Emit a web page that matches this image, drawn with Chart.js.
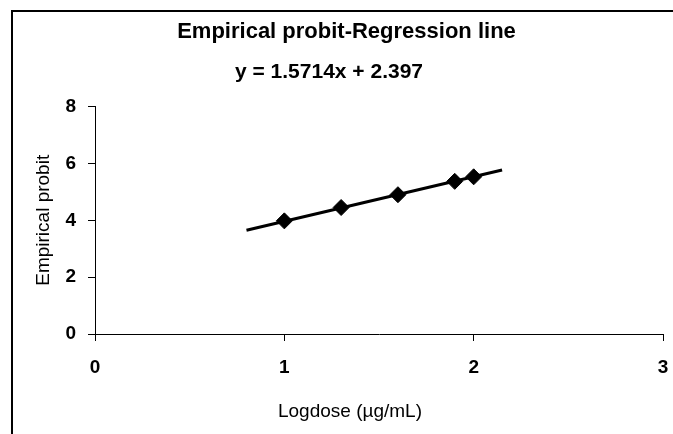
<!DOCTYPE html>
<html>
<head>
<meta charset="utf-8">
<script src="https://cdn.jsdelivr.net/npm/chart.js@4"></script>
<style>
  html, body { margin: 0; padding: 0; background: #fff; overflow: hidden; }
  #wrap { position: relative; width: 673px; height: 434px; }
  #frame { position: absolute; left: 11px; top: 10px; width: 700px; height: 500px; border: 2px solid #000; box-sizing: border-box; }
  canvas { position: absolute; left: 0; top: 0; }
</style>
</head>
<body>
<div id="wrap">
  <div id="frame"></div>
  <canvas id="chart" width="673" height="434"></canvas>
</div>
<script>
// observed points
const logdose = [1.0, 1.3, 1.6, 1.9, 2.0];
const probit = [3.98, 4.45, 4.90, 5.37, 5.53];
// regression line ends as drawn
const lineX = [0.8, 2.15];
const lineY = [3.65, 5.77];
const xTicks = [0, 1, 2, 3];
const yTicks = [0, 2, 4, 6, 8];

const FONT = "'Liberation Sans', Arial, sans-serif";
// trailing no-break spaces nudge centred labels left, like the original layout
const pad = n => "\u00a0".repeat(n);

new Chart(document.getElementById("chart"), {
  type: "scatter",
  data: {
    datasets: [
      {
        label: "fit",
        data: lineX.map((x, i) => ({x: x, y: lineY[i]})),
        showLine: true,
        borderColor: "#000",
        borderWidth: 3,
        pointRadius: 0,
        order: 2
      },
      {
        label: "points",
        data: logdose.map((x, i) => ({x: x, y: probit[i]})),
        pointStyle: "rectRot",
        pointRadius: 8,
        backgroundColor: "#000",
        borderColor: "#000",
        order: 1
      }
    ]
  },
  options: {
    responsive: false,
    animation: false,
    layout: {padding: {left: 20, right: 0, top: 0, bottom: 0}},
    plugins: {
      legend: {display: false},
      tooltip: {enabled: false},
      title: {
        display: true,
        text: "Empirical probit-Regression line",
        color: "#000",
        font: {family: FONT, size: 22, weight: "bold"},
        padding: {top: 19, bottom: 14}
      },
      subtitle: {
        display: true,
        text: "y = 1.5714x + 2.397" + pad(6),
        color: "#000",
        font: {family: FONT, size: 21, weight: "bold"},
        padding: {top: 0, bottom: 22}
      }
    },
    scales: {
      x: {
        type: "linear",
        min: 0, max: 3,
        afterBuildTicks: s => { s.ticks = xTicks.map(v => ({value: v})); },
        afterFit: s => { s.height = 100; s.paddingRight = 10; s.paddingLeft = 0; },
        grid: {display: true, drawOnChartArea: false, drawTicks: true, tickLength: 7, color: "#000", lineWidth: 1},
        border: {display: true, color: "#000", width: 1},
        ticks: {color: "#000", font: {family: FONT, size: 19, weight: "bold"}, padding: 15, maxRotation: 0},
        title: {display: true, text: "Logdose (µg/mL)" + pad(11), color: "#000", font: {family: FONT, size: 19}, padding: {top: 0, bottom: 11}}
      },
      y: {
        min: 0, max: 8,
        afterBuildTicks: s => { s.ticks = yTicks.map(v => ({value: v})); },
        afterFit: s => { s.width = 75; },
        grid: {display: true, drawOnChartArea: false, drawTicks: true, tickLength: 7, color: "#000", lineWidth: 1},
        border: {display: true, color: "#000", width: 1},
        ticks: {color: "#000", font: {family: FONT, size: 19, weight: "bold"}, padding: 12},
        title: {display: true, text: "Empirical probit", color: "#000", font: {family: FONT, size: 19}, padding: {top: 12, bottom: 0}}
      }
    }
  }
});
</script>
</body>
</html>
